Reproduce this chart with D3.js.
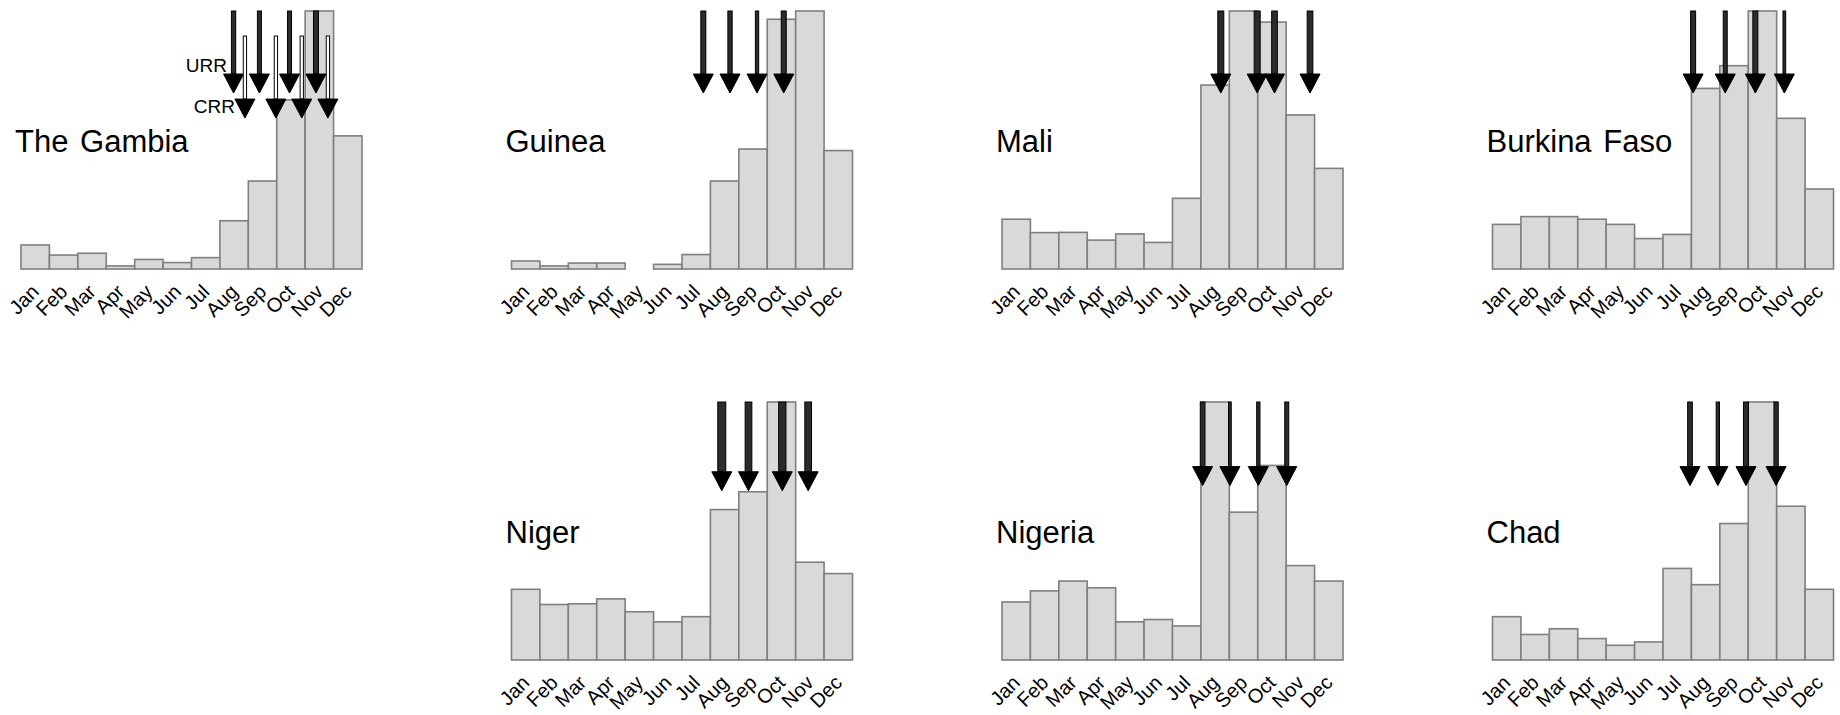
<!DOCTYPE html>
<html>
<head>
<meta charset="utf-8">
<script src="https://cdn.jsdelivr.net/npm/d3@7"></script>
<style>
  html, body { margin: 0; padding: 0; background: #fff; }
  svg { display: block; font-family: "Liberation Sans", Arial, sans-serif; }
</style>
</head>
<body>
<svg id="chart" width="1840" height="715"></svg>
<script>
// ---------------- data ----------------
const months = ["Jan","Feb","Mar","Apr","May","Jun","Jul","Aug","Sep","Oct","Nov","Dec"];
const countries = ["The Gambia","Guinea","Mali","Burkina Faso","Niger","Nigeria","Chad"];

// relative monthly values (peak month = 1)
const gambiaValues  = [0.093,0.054,0.061,0.012,0.037,0.025,0.044,0.187,0.341,0.655,1.000,0.516];
const guineaValues  = [0.031,0.012,0.023,0.023,0.000,0.018,0.056,0.341,0.465,0.968,1.000,0.459];
const maliValues    = [0.193,0.141,0.142,0.112,0.136,0.103,0.274,0.713,1.000,0.957,0.597,0.390];
const burkinaValues = [0.173,0.203,0.203,0.193,0.173,0.118,0.134,0.700,0.788,1.000,0.584,0.310];
const nigerValues   = [0.274,0.215,0.218,0.237,0.187,0.148,0.168,0.583,0.652,1.000,0.379,0.335];
const nigeriaValues = [0.225,0.268,0.306,0.280,0.148,0.157,0.132,1.000,0.573,0.754,0.366,0.306];
const chadValues    = [0.168,0.099,0.121,0.083,0.057,0.070,0.355,0.292,0.529,1.000,0.596,0.274];

// timing of rounds, in months from 1 Jan (URR = upper arrows, CRR = lower arrows)
const gambiaURR  = [7.48, 8.39, 9.45, 10.38];
const gambiaCRR  = [7.88, 8.97, 9.88, 10.80];
const guineaURR  = [6.75, 7.69, 8.64, 9.58];
const maliURR    = [7.70, 8.98, 9.59, 10.84];
const burkinaURR = [7.06, 8.19, 9.25, 10.27];
const nigerURR   = [7.40, 8.34, 9.53, 10.44];
const nigeriaURR = [7.06, 8.02, 9.02, 10.02];
const chadURR    = [6.95, 7.93, 8.92, 9.98];

// relative arrow weights
const gambiaURRw  = [4.3, 4.0, 4.0, 5.0];
const gambiaCRRw  = [3.3, 3.3, 3.3, 3.3];
const guineaURRw  = [5.0, 4.3, 3.3, 5.0];
const maliURRw    = [6.0, 6.0, 5.7, 5.7];
const burkinaURRw = [5.0, 4.0, 5.0, 2.7];
const nigerURRw   = [8.0, 6.7, 7.3, 6.7];
const nigeriaURRw = [4.7, 2.7, 3.3, 4.0];
const chadURRw    = [4.7, 3.3, 5.0, 4.3];

// arrow tip levels (on each panel's value scale)
const arrowTipURR = [0.682, 0.682, 0.682, 0.682, 0.656, 0.676, 0.676];
const arrowTipCRR = 0.585;
const arrowTopCRR = 0.903;

const seriesValues = [gambiaValues, guineaValues, maliValues, burkinaValues, nigerValues, nigeriaValues, chadValues];
const seriesURR = [gambiaURR, guineaURR, maliURR, burkinaURR, nigerURR, nigeriaURR, chadURR];
const seriesURRw = [gambiaURRw, guineaURRw, maliURRw, burkinaURRw, nigerURRw, nigeriaURRw, chadURRw];

// ---------------- layout ----------------
const svg = d3.select("#chart");
const panelCols = [0, 1, 2, 3, 1, 2, 3];
const panelRows = [0, 0, 0, 0, 1, 1, 1];
const colX = d3.scaleLinear().domain([0, 1]).range([21, 511.5]);
const rowTop = [11, 402];
const panelW = 341, panelH = 258;
const weightScale = d3.scaleLinear().domain([0, 10]).range([0, 10]);
const headLen = 19, headHalf = 10;

function drawArrow(g, x, yTop, yTip, w, fill) {
  const yBase = yTip - headLen;
  g.append("rect")
    .attr("x", x - w / 2).attr("y", yTop)
    .attr("width", w).attr("height", yBase - yTop)
    .attr("fill", fill).attr("stroke", "#000").attr("stroke-width", 1);
  g.append("path")
    .attr("d", `M${x - headHalf},${yBase} L${x + headHalf},${yBase} L${x},${yTip} Z`)
    .attr("fill", "#000").attr("stroke", "#000").attr("stroke-width", 1);
}

countries.forEach((name, k) => {
  const x0 = colX(panelCols[k]);
  const top = rowTop[panelRows[k]];
  const xs = d3.scaleLinear().domain([0, 12]).range([x0, x0 + panelW]);
  const ys = d3.scaleLinear().domain([0, 1]).range([top + panelH, top]);
  const g = svg.append("g");

  // bars
  g.selectAll("rect.bar").data(seriesValues[k]).join("rect")
    .attr("class", "bar")
    .attr("x", (d, i) => xs(i))
    .attr("y", d => ys(d))
    .attr("width", xs(1) - xs(0))
    .attr("height", d => ys(0) - ys(d))
    .attr("fill", "#d9d9d9")
    .attr("stroke", "#7f7f7f")
    .attr("stroke-width", 1.6);

  // month labels
  g.selectAll("text.month").data(months).join("text")
    .attr("class", "month")
    .attr("transform", (d, i) => `translate(${xs(i + 0.5) + 5},${ys(0) + 24}) rotate(-45)`)
    .attr("text-anchor", "end")
    .attr("font-size", 20)
    .attr("fill", "#000")
    .text(d => d);

  // title
  g.append("text")
    .attr("x", x0 - 6)
    .attr("y", ys(0) - 117)
    .attr("font-size", 31)
    .attr("word-spacing", 3)
    .attr("fill", "#000")
    .text(name);

  // URR arrows
  seriesURR[k].forEach((t, j) => {
    drawArrow(g, xs(t), ys(1), ys(arrowTipURR[k]), weightScale(seriesURRw[k][j]), "#2b2b2b");
  });

  // CRR arrows (The Gambia only)
  if (k === 0) {
    gambiaCRR.forEach((t, j) => {
      drawArrow(g, xs(t), ys(arrowTopCRR), ys(arrowTipCRR), weightScale(gambiaCRRw[j]), "#fff");
    });
    g.append("text")
      .attr("x", 227).attr("y", 72)
      .attr("text-anchor", "end")
      .attr("font-size", 19)
      .text("URR");
    g.append("text")
      .attr("x", 235).attr("y", 113)
      .attr("text-anchor", "end")
      .attr("font-size", 19)
      .text("CRR");
  }
});
</script>
</body>
</html>
